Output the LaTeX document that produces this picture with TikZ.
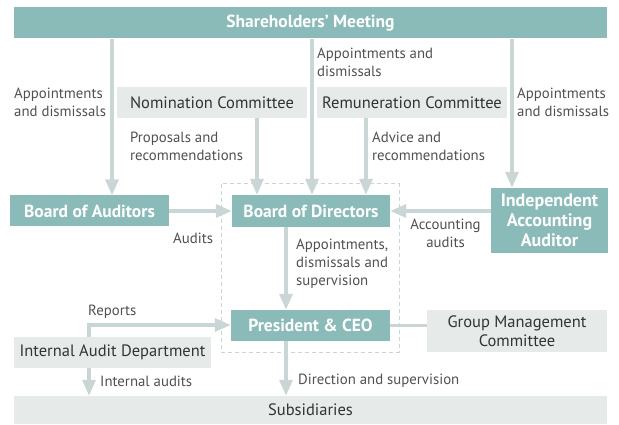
\documentclass[tikz,border=0pt]{standalone}
\usepackage{fontspec}
\setmainfont{PT Sans}
\usetikzlibrary{arrows.meta}
\definecolor{teal1}{HTML}{8BBBB9}
\definecolor{light1}{HTML}{E6EBEA}
\definecolor{arrc}{HTML}{CAD6D5}
\definecolor{txt}{HTML}{333333}
\definecolor{lbl}{HTML}{505050}
\tikzset{
  darkbox/.style={rectangle, fill=teal1, text=white, font=\fontsize{17.5}{19}\selectfont\bfseries, inner sep=0pt, align=center},
  lightbox/.style={rectangle, fill=light1, text=txt, font=\fontsize{16.5}{18}\selectfont, inner sep=0pt, align=center},
  lbltext/.style={text=lbl, font=\fontsize{14.8}{18}\selectfont, inner sep=0pt, align=left, anchor=west},
  arr/.style={draw=arrc, line width=3.3pt, -{Triangle[length=16pt,width=13pt]}},
  plainline/.style={draw=arrc, line width=3.3pt},
}
\begin{document}
\begin{tikzpicture}[x=1pt,y=-1pt]
\useasboundingbox (0,0) rectangle (619,425);
% dashed frame
\draw[arrc, line width=1pt, dash pattern=on 4pt off 3pt] (221,184) rectangle (399,352);
% boxes
\node[darkbox, minimum width=593pt, minimum height=31pt] (sm) at (310.5,23) {Shareholders’ Meeting};
\node[lightbox, minimum width=190pt, minimum height=31pt] (nom) at (212,102.5) {Nomination Committee};
\node[lightbox, minimum width=190pt, minimum height=31pt] (rem) at (412,102.5) {Remuneration Committee};
\node[darkbox, minimum width=159pt, minimum height=31pt] (boa) at (89.5,211) {Board of Auditors};
\node[darkbox, minimum width=158pt, minimum height=32pt] (bod) at (311,211) {Board of Directors};
\node[darkbox, minimum width=117pt, minimum height=65pt, font=\fontsize{18}{20}\selectfont\bfseries] (iaa) at (549.5,220.5) {Independent\\Accounting\\Auditor};
\node[darkbox, minimum width=159pt, minimum height=31pt] (pres) at (310.5,325.5) {President \& CEO};
\node[lightbox, minimum width=180pt, minimum height=42pt, font=\fontsize{16.5}{19}\selectfont] (gmc) at (517,331) {Group Management\\Committee};
\node[lightbox, minimum width=197pt, minimum height=31pt] (iad) at (112.5,352.5) {Internal Audit Department};
\node[lightbox, minimum width=593pt, minimum height=28pt] (sub) at (310.5,410) {Subsidiaries};
% helper coordinates
\coordinate (xa) at (112,0);
\coordinate (xb) at (312,0);
\coordinate (xn) at (257,0);
\coordinate (xr) at (366,0);
\coordinate (xi) at (512,0);
\coordinate (xp) at (286,0);
\coordinate (xd) at (89,0);
\coordinate (yr) at (0,325);
% connectors
\draw[arr] (sm.south -| xa) -- (boa.north -| xa);
\draw[arr] (sm.south -| xb) -- (bod.north -| xb);
\draw[arr] (nom.south -| xn) -- (bod.north -| xn);
\draw[arr] (rem.south -| xr) -- (bod.north -| xr);
\draw[arr] (sm.south -| xi) -- (iaa.north -| xi);
\draw[arr] (boa.east) -- (bod.west);
\draw[arr] (iaa.west |- bod.east) -- (bod.east);
\draw[arr] (bod.south -| xp) -- (pres.north -| xp);
\draw[plainline] (pres.east) -- (gmc.west |- pres.east);
\draw[arr] (iad.north -| xd) -- (xd |- yr) -- (pres.west |- yr);
\draw[arr] (iad.south -| xd) -- (sub.north -| xd);
\draw[arr] (pres.south -| xp) -- (sub.north -| xp);
% labels
\node[lbltext] (l1) at (14,102.5) {Appointments\\and dismissals};
\node[lbltext] (l2) at (317,62) {Appointments and\\dismissals};
\node[lbltext] (l3) at (517,102.5) {Appointments\\and dismissals};
\node[lbltext] (l4) at (130,146) {Proposals and\\recommendations};
\node[lbltext] (l5) at (372,146) {Advice and\\recommendations};
\node[lbltext] (l6) at (173,238) {Audits};
\node[lbltext, align=center, anchor=center] (l7) at (445.5,233.5) {Accounting\\audits};
\node[lbltext] (l8) at (296,264) {Appointments,\\dismissals and\\supervision};
\node[lbltext] (l9) at (88,312) {Reports};
\node[lbltext] (l10) at (100,381) {Internal audits};
\node[lbltext] (l11) at (298,381) {Direction and supervision};
\end{tikzpicture}
\end{document}
